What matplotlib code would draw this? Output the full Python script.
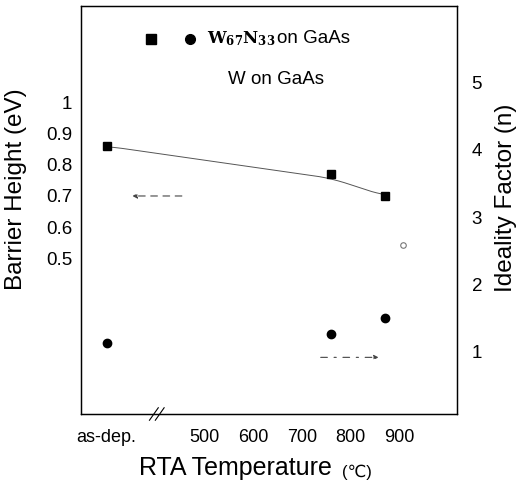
import numpy as np
import matplotlib
matplotlib.use("Agg")
import matplotlib.pyplot as plt

plt.rcParams['font.family'] = ['Liberation Sans', 'DejaVu Sans']

# data (as-dep. is placed at x=300)
temp = [300, 760, 870]
barrier = [0.86, 0.77, 0.70]
ideality = [1.13, 1.27, 1.50]
w_temp = [907]
w_n = [2.58]

xticks = [300, 500, 600, 700, 800, 900]
xlabels = ['as-dep.', '500', '600', '700', '800', '900']
lticks = [0.5, 0.6, 0.7, 0.8, 0.9, 1.0]
llabels = ['0.5', '0.6', '0.7', '0.8', '0.9', '1']
rticks = [1, 2, 3, 4, 5]

fig = plt.figure(figsize=(5.2, 5.0), dpi=100)
ax = fig.add_axes([0.156, 0.172, 0.723, 0.816])
ax2 = ax.twinx()

ax.set_xlim(248, 1018)
ax.set_ylim(0.0, 1.31)
ax2.set_ylim(0.08, 6.13)

# hand drawn guide line through the squares (passes a bit under the middle one)
guide = np.array(barrier) - np.array([0, 0.013, 0])
xs = np.linspace(temp[0], temp[-1], 400)
ys = np.interp(xs, temp, guide)
k = 25
ys_s = np.convolve(np.pad(ys, k, mode='edge'), np.ones(2 * k + 1) / (2 * k + 1), mode='valid')
ax.plot(xs, ys_s, color='#555555', lw=0.7)

ax.plot(temp, barrier, 's', color='black', ms=5.5)
ax2.plot(temp, ideality, 'o', color='black', ms=6)
ax2.plot(w_temp, w_n, 'o', mfc='white', mec='#777777', ms=4, mew=0.8)

# arrows
ax.annotate('', xy=(347, 0.70), xytext=(460, 0.70),
            arrowprops=dict(arrowstyle='-|>', color='#444444', lw=0.8, ls=(0, (6, 5)),
                            mutation_scale=7))
ax2.annotate('', xy=(863, 0.92), xytext=(733, 0.92),
             arrowprops=dict(arrowstyle='-|>', color='#444444', lw=0.8, ls=(0, (6, 6, 2, 6)),
                             mutation_scale=7))

ax.set_xticks(xticks)
ax.set_xticklabels(xlabels, fontsize=13)
ax.set_yticks(lticks)
ax.set_yticklabels(llabels, fontsize=13.5)
ax2.set_yticks(rticks)
ax2.set_yticklabels([str(t) for t in rticks], fontsize=13.5)
ax.tick_params(axis='x', length=0, pad=11)
ax.tick_params(axis='y', length=0, pad=6.5)
ax2.tick_params(axis='y', length=0, pad=10.5)

for a in (ax, ax2):
    for s in a.spines.values():
        s.set_linewidth(0.9)

# axis break
for dx in (0, 12):
    ax.plot([388 + dx, 406 + dx], [-0.02, 0.02], color='black', lw=0.8, clip_on=False)

ax.set_ylabel('Barrier Height (eV)', fontsize=17.5)
ax.yaxis.set_label_coords(-0.144, 0.551)
ax2.set_ylabel('Ideality Factor (n)', fontsize=17.5)
ax2.yaxis.set_label_coords(1.101, 0.529)
ax.set_xlabel('RTA Temperature', fontsize=18)
ax.xaxis.set_label_coords(0.41, -0.103)
ax.text(0.695, -0.155, '(\u2103)', fontsize=12, va='baseline', transform=ax.transAxes)

# legend as text
ax.plot([392], [1.205], 's', color='black', ms=6.5)
ax.plot([470], [1.205], 'o', color='black', ms=7)
ax.text(505, 1.205, r'$\mathbf{W}_{\mathbf{67}}\mathbf{N}_{\mathbf{33}}$', fontsize=12,
        va='center', math_fontfamily='dejavuserif')
ax.text(650, 1.205, 'on GaAs', fontsize=13.5, va='center')
ax.text(548, 1.074, 'W on GaAs', fontsize=13.5, va='center')

fig.savefig('out.png', dpi=100)
